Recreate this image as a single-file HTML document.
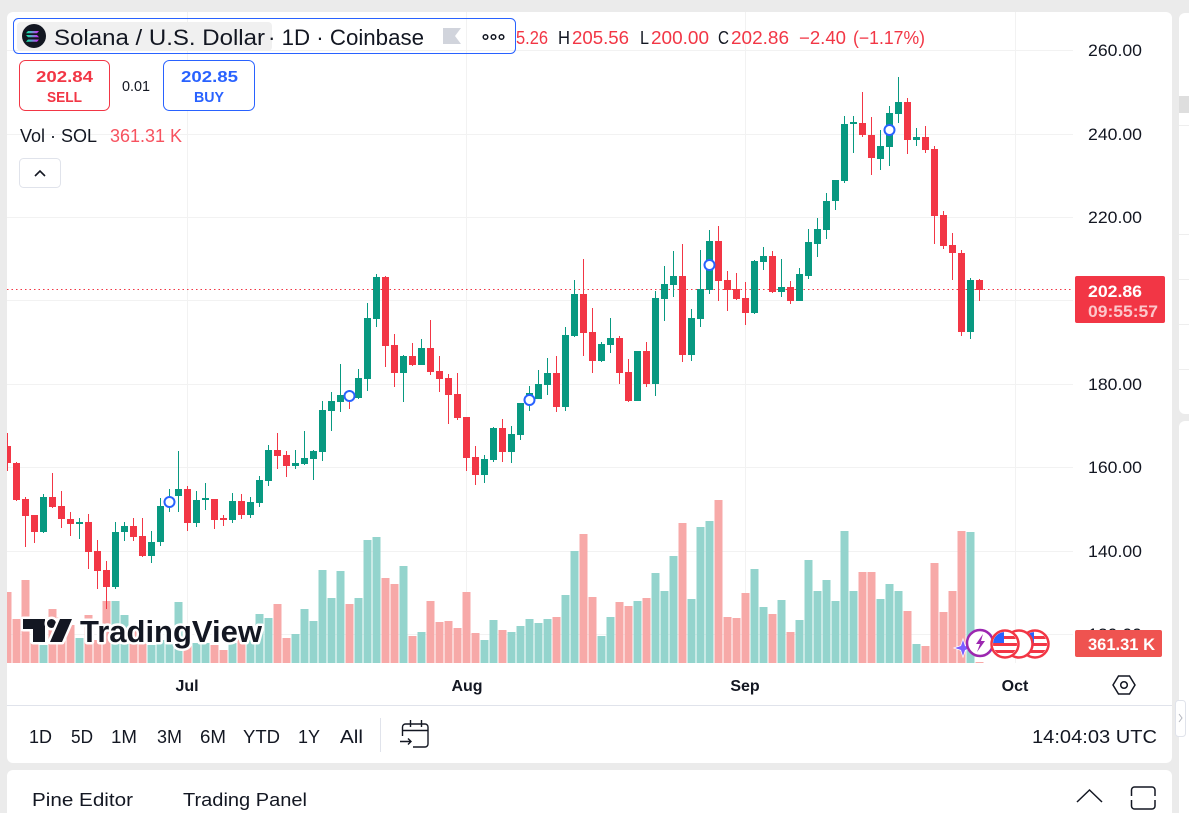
<!DOCTYPE html>
<html><head><meta charset="utf-8"><style>
html,body{margin:0;padding:0;background:#ebebeb;}
svg{display:block;font-family:"Liberation Sans",sans-serif;}
</style></head><body>
<svg width="1189" height="813" viewBox="0 0 1189 813" xmlns="http://www.w3.org/2000/svg">
<defs>
<clipPath id="cc"><rect x="7" y="12" width="1066" height="651"/></clipPath>
<linearGradient id="sol" x1="0" y1="0" x2="1" y2="0"><stop offset="0" stop-color="#00ffa3"/><stop offset="1" stop-color="#dc1fff"/></linearGradient>
<clipPath id="f1"><circle cx="1005" cy="644" r="12"/></clipPath>
<clipPath id="f3"><circle cx="1035" cy="644" r="12"/></clipPath>
</defs>
<rect x="0" y="0" width="1189" height="813" fill="#ebebeb"/>
<!-- main panel -->
<rect x="7" y="12" width="1165" height="751" rx="6" fill="#fff"/>
<!-- right side panels -->
<rect x="1179" y="13" width="20" height="401" rx="6" fill="#fff"/>
<rect x="1179" y="421" width="20" height="400" rx="6" fill="#fff"/>
<rect x="1179" y="96" width="10" height="17" fill="#dedede"/>
<path d="M1179 125.5H1189M1179 234.5H1189M1179 279.5H1189M1179 324.5H1189M1179 369.5H1189" stroke="#eeeeee"/>
<rect x="1175.5" y="700.5" width="10" height="36" rx="3" fill="#fff" stroke="#e0e3eb"/>
<path d="M1179 714l3 4l-3 4" fill="none" stroke="#b2b5be" stroke-width="1"/>
<!-- bottom panel -->
<rect x="7" y="770" width="1165" height="60" rx="6" fill="#fff"/>

<!-- grid -->
<g stroke="#f2f2f2" stroke-width="1">
<path d="M7 50.5H1073M7 134.5H1073M7 217.5H1073M7 300.5H1073M7 384.5H1073M7 467.5H1073M7 551.5H1073M7 634.5H1073"/>
<path d="M187.5 12V663M466.5 12V663M745.5 12V663M1015.5 12V663"/>
</g>

<g clip-path="url(#cc)">
<!-- volume green -->
<path fill="#94d4cd" d="M39.5 645h8V663h-8zM75.5 638h8V663h-8zM111.5 601h8V663h-8zM120.5 615h8V663h-8zM147.5 645h8V663h-8zM156.5 640h8V663h-8zM165.5 640h8V663h-8zM174.5 602h8V663h-8zM192.5 643h8V663h-8zM201.5 643h8V663h-8zM228.5 643h8V663h-8zM246.5 640h8V663h-8zM255.5 614h8V663h-8zM264.5 618h8V663h-8zM291.5 634h8V663h-8zM300.5 609h8V663h-8zM309.5 621h8V663h-8zM318.5 570h8V663h-8zM327.5 598h8V663h-8zM336.5 571h8V663h-8zM354.5 598h8V663h-8zM363.5 540h8V663h-8zM372.5 537h8V663h-8zM399.5 566h8V663h-8zM417.5 632h8V663h-8zM480.5 640h8V663h-8zM489.5 620h8V663h-8zM507.5 632h8V663h-8zM516.5 626h8V663h-8zM525.5 619h8V663h-8zM534.5 623h8V663h-8zM543.5 619h8V663h-8zM561.5 595h8V663h-8zM570.5 551h8V663h-8zM597.5 636h8V663h-8zM606.5 617h8V663h-8zM633.5 601h8V663h-8zM651.5 573h8V663h-8zM660.5 591h8V663h-8zM669.5 556h8V663h-8zM687.5 599h8V663h-8zM696.5 527h8V663h-8zM705.5 521h8V663h-8zM750.5 569h8V663h-8zM759.5 607h8V663h-8zM777.5 600h8V663h-8zM795.5 620h8V663h-8zM804.5 560h8V663h-8zM813.5 591h8V663h-8zM822.5 580h8V663h-8zM831.5 601h8V663h-8zM840.5 531h8V663h-8zM849.5 591h8V663h-8zM876.5 599h8V663h-8zM885.5 584h8V663h-8zM894.5 591h8V663h-8zM912.5 644h8V663h-8zM966.5 532h8V663h-8z"/>
<!-- volume red -->
<path fill="#f7a9a8" d="M3.5 592h8V663h-8zM12.5 619h8V663h-8zM21.5 580h8V663h-8zM30.5 622h8V663h-8zM48.5 609h8V663h-8zM57.5 617h8V663h-8zM66.5 625h8V663h-8zM84.5 615h8V663h-8zM93.5 640h8V663h-8zM102.5 601h8V663h-8zM129.5 630h8V663h-8zM138.5 635h8V663h-8zM183.5 640h8V663h-8zM210.5 645h8V663h-8zM219.5 650h8V663h-8zM237.5 637h8V663h-8zM273.5 604h8V663h-8zM282.5 638h8V663h-8zM345.5 604h8V663h-8zM381.5 578h8V663h-8zM390.5 584h8V663h-8zM408.5 636h8V663h-8zM426.5 601h8V663h-8zM435.5 622h8V663h-8zM444.5 621h8V663h-8zM453.5 628h8V663h-8zM462.5 592h8V663h-8zM471.5 633h8V663h-8zM498.5 630h8V663h-8zM552.5 617h8V663h-8zM579.5 534h8V663h-8zM588.5 597h8V663h-8zM615.5 602h8V663h-8zM624.5 606h8V663h-8zM642.5 598h8V663h-8zM678.5 523h8V663h-8zM714.5 500h8V663h-8zM723.5 617h8V663h-8zM732.5 618h8V663h-8zM741.5 593h8V663h-8zM768.5 614h8V663h-8zM786.5 632h8V663h-8zM858.5 572h8V663h-8zM867.5 572h8V663h-8zM903.5 611h8V663h-8zM921.5 646h8V663h-8zM930.5 563h8V663h-8zM939.5 612h8V663h-8zM948.5 591h8V663h-8zM957.5 531h8V663h-8zM975.5 662h8V663h-8z"/>

<!-- price line -->
<path d="M7 289.5H1075" stroke="#f23645" stroke-width="1" stroke-dasharray="1.5 3"/>

<!-- green wicks -->
<path stroke="#089981" stroke-width="1" fill="none" d="M43.5 494V533M79.5 518V539M115.5 522V589M124.5 522V541M151.5 531V563M160.5 498V546M169.5 489V512M178.5 451V512M196.5 491V527M205.5 483V510M232.5 493V523M250.5 497V518M259.5 476V507M268.5 445V486M295.5 450V469M304.5 431V465M313.5 450V480M322.5 401V461M331.5 392V431M340.5 364V412M358.5 369V399M367.5 303V391M376.5 274V327M403.5 355V402M421.5 339V365M484.5 455V483M493.5 427V462M511.5 426V463M520.5 403V440M529.5 386V411M538.5 370V399M547.5 358V395M565.5 327V411M574.5 280V337M601.5 342V362M610.5 318V353M637.5 351V401M655.5 291V396M664.5 266V321M673.5 251V297M691.5 309V361M700.5 250V327M709.5 230V294M754.5 260V314M763.5 247V270M781.5 259V297M799.5 268V301M808.5 229V279M817.5 218V257M826.5 193V239M835.5 180V210M844.5 116V183M853.5 116V153M880.5 130V170M889.5 106V166M898.5 77V123M916.5 128V146M970.5 278V339"/>
<!-- red wicks -->
<path stroke="#f23645" stroke-width="1" fill="none" d="M7.5 433V471M16.5 462V501M25.5 497V547M34.5 515V543M52.5 473V508M61.5 491V528M70.5 512V536M88.5 514V569M97.5 540V589M106.5 561V609M133.5 518V541M142.5 518V557M187.5 486V531M214.5 499V529M223.5 515V526M241.5 494V519M277.5 433V469M286.5 451V477M349.5 390V409M385.5 276V367M394.5 334V387M412.5 343V366M430.5 320V375M439.5 356V392M448.5 374V424M457.5 373V420M466.5 417V471M475.5 446V485M502.5 419V462M556.5 356V412M583.5 259V356M592.5 308V373M619.5 336V384M628.5 359V402M646.5 342V387M682.5 244V362M718.5 226V301M727.5 271V311M736.5 273V300M745.5 282V325M772.5 251V293M790.5 281V304M862.5 92V137M871.5 117V175M907.5 98V154M925.5 126V153M934.5 146V244M943.5 211V249M952.5 233V280M961.5 250V336M979.5 279V301"/>
<!-- green bodies -->
<path fill="#089981" d="M40 497h7v35h-7zM76 522h7v2h-7zM112 532h7v55h-7zM121 526h7v6h-7zM148 542h7v14h-7zM157 506h7v36h-7zM166 498h7v4h-7zM175 489h7v7h-7zM193 500h7v23h-7zM202 498h7v2h-7zM229 501h7v19h-7zM247 502h7v13h-7zM256 480h7v23h-7zM265 450h7v31h-7zM292 463h7v3h-7zM301 458h7v6h-7zM310 451h7v8h-7zM319 410h7v42h-7zM328 401h7v10h-7zM337 395h7v7h-7zM355 378h7v20h-7zM364 318h7v61h-7zM373 277h7v42h-7zM400 356h7v17h-7zM418 348h7v17h-7zM481 459h7v16h-7zM490 428h7v32h-7zM508 434h7v18h-7zM517 403h7v32h-7zM526 393h7v9h-7zM535 384h7v15h-7zM544 373h7v12h-7zM562 335h7v72h-7zM571 294h7v42h-7zM598 344h7v17h-7zM607 338h7v7h-7zM634 351h7v50h-7zM652 298h7v86h-7zM661 284h7v15h-7zM670 276h7v9h-7zM688 318h7v37h-7zM697 289h7v30h-7zM706 241h7v49h-7zM751 261h7v52h-7zM760 256h7v6h-7zM778 287h7v5h-7zM796 274h7v27h-7zM805 242h7v34h-7zM814 229h7v15h-7zM823 201h7v29h-7zM832 180h7v21h-7zM841 124h7v57h-7zM850 122h7v2h-7zM877 146h7v13h-7zM886 113h7v34h-7zM895 102h7v12h-7zM913 137h7v3h-7zM967 280h7v52h-7z"/>
<!-- red bodies -->
<path fill="#f23645" d="M4 446h7v17h-7zM13 463h7v37h-7zM22 499h7v17h-7zM31 515h7v17h-7zM49 497h7v10h-7zM58 506h7v13h-7zM67 519h7v5h-7zM85 522h7v30h-7zM94 551h7v20h-7zM103 570h7v17h-7zM130 526h7v11h-7zM139 536h7v20h-7zM184 489h7v34h-7zM211 499h7v21h-7zM220 518h7v2h-7zM238 501h7v14h-7zM274 450h7v6h-7zM283 455h7v11h-7zM346 393h7v7h-7zM382 277h7v69h-7zM391 345h7v28h-7zM409 356h7v9h-7zM427 348h7v24h-7zM436 371h7v8h-7zM445 378h7v17h-7zM454 394h7v24h-7zM463 417h7v41h-7zM472 457h7v18h-7zM499 428h7v24h-7zM553 373h7v34h-7zM580 294h7v39h-7zM589 332h7v29h-7zM616 338h7v35h-7zM625 372h7v29h-7zM643 351h7v33h-7zM679 276h7v79h-7zM715 241h7v40h-7zM724 280h7v10h-7zM733 289h7v10h-7zM742 298h7v15h-7zM769 256h7v36h-7zM787 287h7v14h-7zM859 123h7v12h-7zM868 135h7v23h-7zM904 102h7v38h-7zM922 137h7v13h-7zM931 149h7v67h-7zM940 215h7v31h-7zM949 245h7v8h-7zM958 253h7v79h-7zM976 280h7v10h-7z"/>
<!-- markers -->
<g fill="#fff" stroke="#2962ff" stroke-width="2">
<circle cx="169.5" cy="502" r="5"/><circle cx="349.5" cy="396" r="5"/><circle cx="529.5" cy="400" r="5"/><circle cx="709.5" cy="265" r="5"/><circle cx="889.5" cy="130" r="5"/>
</g>
</g>

<!-- TradingView logo -->
<g stroke="#fff" stroke-width="5" stroke-linejoin="round" paint-order="stroke" fill="#131722">
<path d="M23 619H45V642H33V629H23Z"/>
<circle cx="51.5" cy="623.5" r="4.5"/>
<path d="M60 619H72L62 642H50Z"/>
<text x="80" y="642" font-size="31" font-weight="bold" textLength="182" lengthAdjust="spacingAndGlyphs">TradingView</text>
</g>

<!-- bottom right overlay icons -->
<path d="M963 640l2 6l6 2l-6 2l-2 6l-2-6l-6-2l6-2z" fill="#7b5cff" stroke="#fff" stroke-width="1.5" paint-order="stroke"/>
<circle cx="980" cy="643" r="13" fill="#fff" stroke="#9c27b0" stroke-width="2.5"/>
<path d="M983 634l-7 10h4l-3 8l8-11h-4z" fill="#9c27b0"/>
<g>
<circle cx="1035" cy="644" r="13.5" fill="#fff" stroke="#f23645" stroke-width="2.5"/>
<g clip-path="url(#f3)"><rect x="1023" y="636" width="24" height="3" fill="#f23645"/><rect x="1023" y="643" width="24" height="3" fill="#f23645"/><rect x="1023" y="650" width="24" height="3" fill="#f23645"/><rect x="1023" y="632" width="11" height="11" fill="#2962ff"/></g>
<circle cx="1019" cy="644" r="13.5" fill="#fff" stroke="#f23645" stroke-width="2.5"/>
<circle cx="1005" cy="644" r="13.5" fill="#fff" stroke="#f23645" stroke-width="2.5"/>
<g clip-path="url(#f1)"><rect x="993" y="636" width="24" height="3" fill="#f23645"/><rect x="993" y="643" width="24" height="3" fill="#f23645"/><rect x="993" y="650" width="24" height="3" fill="#f23645"/><rect x="993" y="632" width="11" height="11" fill="#2962ff"/></g>
</g>

<!-- price axis -->
<g font-size="17" fill="#131722">
<text x="1088" y="56" textLength="54" lengthAdjust="spacingAndGlyphs">260.00</text>
<text x="1088" y="140" textLength="54" lengthAdjust="spacingAndGlyphs">240.00</text>
<text x="1088" y="223" textLength="54" lengthAdjust="spacingAndGlyphs">220.00</text>
<text x="1088" y="306" textLength="54" lengthAdjust="spacingAndGlyphs">200.00</text>
<text x="1088" y="390" textLength="54" lengthAdjust="spacingAndGlyphs">180.00</text>
<text x="1088" y="473" textLength="54" lengthAdjust="spacingAndGlyphs">160.00</text>
<text x="1088" y="557" textLength="54" lengthAdjust="spacingAndGlyphs">140.00</text>
<text x="1088" y="640" textLength="54" lengthAdjust="spacingAndGlyphs">120.00</text>
</g>
<rect x="1075" y="276" width="90" height="47" rx="2" fill="#f23645"/>
<text x="1088" y="297" font-size="17" font-weight="bold" fill="#fff" textLength="54" lengthAdjust="spacingAndGlyphs">202.86</text>
<text x="1088" y="317" font-size="17" font-weight="bold" fill="#fff" fill-opacity="0.72" textLength="70" lengthAdjust="spacingAndGlyphs">09:55:57</text>
<rect x="1075" y="630" width="87" height="27" rx="2" fill="#ef5350"/>
<text x="1088" y="650" font-size="17" font-weight="bold" fill="#fff" textLength="67" lengthAdjust="spacingAndGlyphs">361.31 K</text>

<!-- legend -->
<rect x="17" y="22" width="255" height="29" rx="4" fill="#f0f0f0"/>
<rect x="13.5" y="18.5" width="502" height="35" rx="5" fill="none" stroke="#2962ff"/>
<circle cx="34" cy="36" r="12" fill="#131722"/>
<path d="M28 31h11l-2 2.2h-11zM26 35h11l2 2.2h-11zM28 39.5h11l-2 2.2h-11z" fill="url(#sol)"/>
<g fill="#131722">
<text x="54" y="45" font-size="22" textLength="211" lengthAdjust="spacingAndGlyphs">Solana / U.S. Dollar</text>
<text x="268" y="45" font-size="22" textLength="156" lengthAdjust="spacingAndGlyphs">· 1D · Coinbase</text>
</g>
<path d="M443 28H461L455 36L461 44H443Z" fill="#d1d4dc"/>
<g fill="none" stroke="#131722" stroke-width="1.5"><circle cx="485.5" cy="37" r="2.3"/><circle cx="493.5" cy="37" r="2.3"/><circle cx="501.5" cy="37" r="2.3"/></g>
<g font-size="18">
<text x="516" y="44" fill="#f23645" textLength="32" lengthAdjust="spacingAndGlyphs">5.26</text>
<text x="558" y="44" fill="#131722" textLength="12" lengthAdjust="spacingAndGlyphs">H</text>
<text x="572" y="44" fill="#f23645" textLength="57" lengthAdjust="spacingAndGlyphs">205.56</text>
<text x="640" y="44" fill="#131722" textLength="9" lengthAdjust="spacingAndGlyphs">L</text>
<text x="651" y="44" fill="#f23645" textLength="58" lengthAdjust="spacingAndGlyphs">200.00</text>
<text x="718" y="44" fill="#131722" textLength="11" lengthAdjust="spacingAndGlyphs">C</text>
<text x="731" y="44" fill="#f23645" textLength="58" lengthAdjust="spacingAndGlyphs">202.86</text>
<text x="799" y="44" fill="#f23645" textLength="47" lengthAdjust="spacingAndGlyphs">−2.40</text>
<text x="853" y="44" fill="#f23645" textLength="72" lengthAdjust="spacingAndGlyphs">(−1.17%)</text>
</g>
<rect x="19.5" y="60.5" width="90" height="50" rx="6" fill="#fff" stroke="#f23645"/>
<text x="36" y="82" font-size="16" font-weight="bold" fill="#f23645" textLength="57" lengthAdjust="spacingAndGlyphs">202.84</text>
<text x="47" y="102" font-size="15" font-weight="bold" fill="#f23645" textLength="35" lengthAdjust="spacingAndGlyphs">SELL</text>
<text x="122" y="91" font-size="15" fill="#131722" textLength="28" lengthAdjust="spacingAndGlyphs">0.01</text>
<rect x="163.5" y="60.5" width="91" height="50" rx="6" fill="#fff" stroke="#2962ff"/>
<text x="181" y="82" font-size="16" font-weight="bold" fill="#2962ff" textLength="57" lengthAdjust="spacingAndGlyphs">202.85</text>
<text x="194" y="102" font-size="15" font-weight="bold" fill="#2962ff" textLength="30" lengthAdjust="spacingAndGlyphs">BUY</text>
<text x="20" y="142" font-size="18" fill="#131722" textLength="77" lengthAdjust="spacingAndGlyphs">Vol · SOL</text>
<text x="110" y="142" font-size="18" fill="#f7525f" textLength="72" lengthAdjust="spacingAndGlyphs">361.31 K</text>
<rect x="19.5" y="158.5" width="41" height="29" rx="4" fill="#fff" stroke="#e0e3eb"/>
<path d="M35 176l5-5l5 5" fill="none" stroke="#131722" stroke-width="1.6"/>

<!-- time axis -->
<g font-size="16" font-weight="bold" fill="#131722" text-anchor="middle">
<text x="187" y="691">Jul</text>
<text x="467" y="691">Aug</text>
<text x="745" y="691">Sep</text>
<text x="1015" y="691">Oct</text>
</g>
<path d="M1113 685L1118.5 676H1129.5L1135 685L1129.5 694H1118.5Z" fill="none" stroke="#131722" stroke-width="1.5"/>
<circle cx="1124" cy="685" r="3.3" fill="none" stroke="#131722" stroke-width="1.5"/>
<path d="M7 705.5H1172" stroke="#e0e3eb"/>

<!-- range bar -->
<g font-size="18" fill="#131722">
<text x="29" y="743" textLength="23" lengthAdjust="spacingAndGlyphs">1D</text>
<text x="71" y="743" textLength="22" lengthAdjust="spacingAndGlyphs">5D</text>
<text x="111" y="743" textLength="26" lengthAdjust="spacingAndGlyphs">1M</text>
<text x="157" y="743" textLength="25" lengthAdjust="spacingAndGlyphs">3M</text>
<text x="200" y="743" textLength="26" lengthAdjust="spacingAndGlyphs">6M</text>
<text x="243" y="743" textLength="37" lengthAdjust="spacingAndGlyphs">YTD</text>
<text x="298" y="743" textLength="22" lengthAdjust="spacingAndGlyphs">1Y</text>
<text x="340" y="743" textLength="23" lengthAdjust="spacingAndGlyphs">All</text>
<text x="1032" y="743" textLength="125" lengthAdjust="spacingAndGlyphs">14:04:03 UTC</text>
</g>
<rect x="380" y="718" width="1" height="34" fill="#e0e3eb"/>
<g fill="none" stroke="#131722" stroke-width="1.4">
<path d="M402.5 736V727a3 3 0 0 1 3-3H425a3 3 0 0 1 3 3V744a3 3 0 0 1-3 3H413"/>
<path d="M402.5 730.5H428M410.5 720V727M421.5 720V727"/>
<path d="M400 741.5H411M408 738.5l3 3l-3 3"/>
</g>

<!-- bottom panel -->
<g font-size="18" fill="#131722">
<text x="32" y="806" textLength="101" lengthAdjust="spacingAndGlyphs">Pine Editor</text>
<text x="183" y="806" textLength="124" lengthAdjust="spacingAndGlyphs">Trading Panel</text>
</g>
<path d="M1077 802L1089.5 790L1102 802" fill="none" stroke="#131722" stroke-width="1.5"/>
<path d="M1131.5 796v-6a3 3 0 0 1 3-3h17.5a3 3 0 0 1 3 3v6M1131.5 800v6a3 3 0 0 0 3 3h17.5a3 3 0 0 0 3-3v-6" fill="none" stroke="#131722" stroke-width="1.5"/>
</svg>
</body></html>
